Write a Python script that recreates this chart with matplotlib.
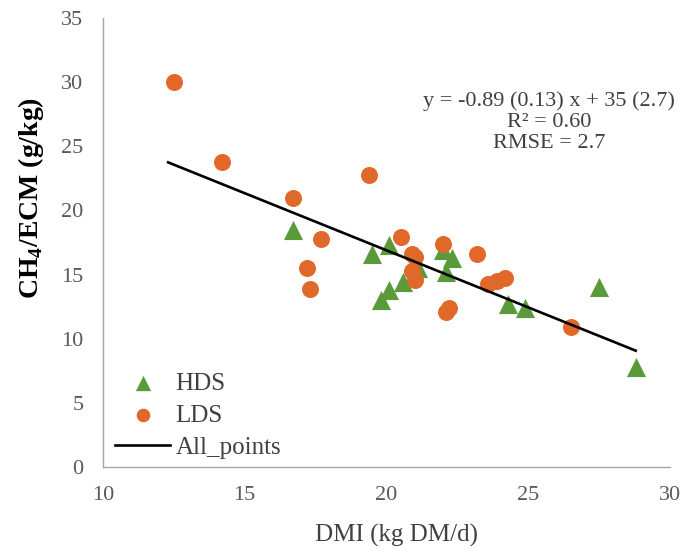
import matplotlib
matplotlib.use("Agg")
import matplotlib.pyplot as plt
import numpy as np

# Data
hds_x = [16.7, 19.5, 20.1, 20.6, 20.1, 19.8, 21.1, 22.0, 22.3, 22.1, 24.3, 24.9, 27.5, 28.8]
hds_y = [18.5, 16.6, 17.3, 14.4, 13.8, 13.0, 15.5, 16.9, 16.3, 15.2, 12.7, 12.4, 14.0, 7.8]

lds_x = [12.5, 14.2, 16.7, 19.4, 17.7, 17.2, 17.3, 20.5, 20.9, 21.0, 20.9, 21.0,
         22.0, 23.2, 22.1, 22.2, 23.6, 23.9, 24.2, 26.5]
lds_y = [30.0, 23.8, 21.0, 22.8, 17.8, 15.5, 13.9, 17.9, 16.6, 16.4, 15.3, 14.6,
         17.4, 16.6, 12.1, 12.4, 14.3, 14.5, 14.7, 10.9]

fit_slope = -0.89
fit_intercept = 34.7
fit_x_range = [12.3, 28.8]

x_ticks = [10, 15, 20, 25, 30]
y_ticks = [0, 5, 10, 15, 20, 25, 30, 35]

green = "#5B9A3B"
orange = "#E0692A"
serif = ["Liberation Serif", "DejaVu Serif"]

plt.rcParams["font.family"] = serif
plt.rcParams["mathtext.fontset"] = "custom"
plt.rcParams["mathtext.rm"] = "Liberation Serif"
plt.rcParams["mathtext.bf"] = "Liberation Serif:bold"

fig = plt.figure(figsize=(6.82, 5.5), dpi=100)
ax = fig.add_axes([0.151, 0.151, 0.831, 0.816])

ax.scatter(hds_x, hds_y, marker="^", s=190, color=green, linewidths=0, label="HDS", zorder=3)
ax.scatter(lds_x, lds_y, marker="o", s=150, color=orange, linewidths=0, label="LDS", zorder=3)
fx = np.array(fit_x_range)
ax.plot(fx, fit_slope * fx + fit_intercept, color="black", lw=1.9, label="All_points", zorder=4)

ax.set_xlim(10, 30)
ax.set_ylim(0, 35)
ax.set_xticks(x_ticks)
ax.set_yticks(y_ticks)
ax.tick_params(axis="both", length=0, labelsize=16, labelcolor="#595959")
ax.tick_params(axis="y", pad=14)
ax.tick_params(axis="x", pad=14)
for s in ["top", "right"]:
    ax.spines[s].set_visible(False)
for s in ["left", "bottom"]:
    ax.spines[s].set_color("#A6A6A6")
    ax.spines[s].set_linewidth(1.0)

ax.set_xlabel("DMI (kg DM/d)", fontsize=18, color="#404040")
ax.xaxis.set_label_coords(0.518, -0.128)
ax.set_ylabel(r"CH$_\mathbf{4}$/ECM (g/kg)", fontsize=20, fontweight="bold", color="black")
ax.yaxis.set_label_coords(-0.10, 0.60)

ax.text(0.787, 0.768, "y = -0.89 (0.13) x + 35 (2.7)\nR\u00b2 = 0.60\nRMSE = 2.7",
        transform=ax.transAxes, ha="center", va="center", fontsize=16,
        color="#404040", linespacing=1.15)

leg = ax.legend(loc="lower left", bbox_to_anchor=(0.0, -0.01), frameon=False,
                fontsize=18, handlelength=2.2, labelspacing=0.38, handletextpad=0.2,
                borderaxespad=0.2, borderpad=0.3, markerscale=0.8)
for t in leg.get_texts():
    t.set_color("#404040")

fig.savefig("out.png", dpi=100)
